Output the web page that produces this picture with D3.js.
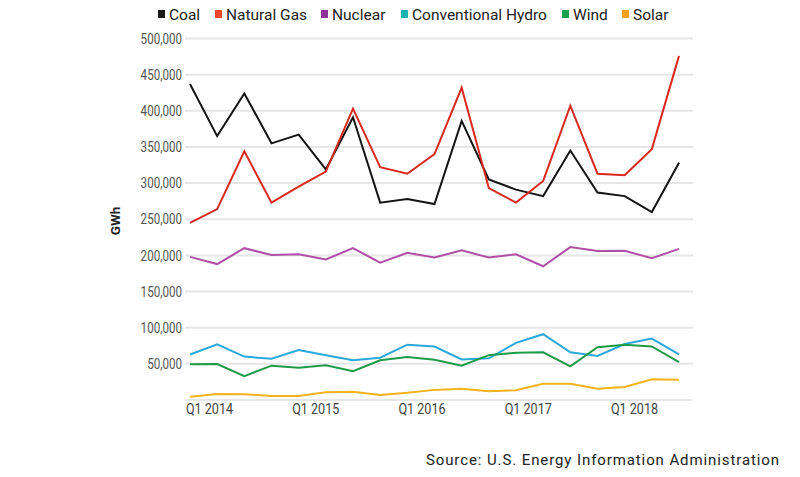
<!DOCTYPE html>
<html>
<head>
<meta charset="utf-8">
<script src="https://cdn.jsdelivr.net/npm/d3@7"></script>
<style>
  body { margin: 0; background: #fff; }
  svg { font-family: Roboto, sans-serif; }
</style>
</head>
<body>
<div id="chart"></div>
<script>
// quarters on the x axis
const quarters = ["Q1 2014","Q2 2014","Q3 2014","Q4 2014",
                  "Q1 2015","Q2 2015","Q3 2015","Q4 2015",
                  "Q1 2016","Q2 2016","Q3 2016","Q4 2016",
                  "Q1 2017","Q2 2017","Q3 2017","Q4 2017",
                  "Q1 2018","Q2 2018","Q3 2018"];
const xTicks = ["Q1 2014","Q1 2015","Q1 2016","Q1 2017","Q1 2018"];
const yTicks = [50000,100000,150000,200000,250000,300000,350000,400000,450000,500000];

// GWh per quarter
const coal        = [437000,365000,424000,355000,367000,319000,391000,273000,278000,271000,386000,305000,291000,282000,345000,287000,282000,260000,328000];
const naturalGas  = [245000,264000,344000,273000,295000,316000,403000,322000,313000,340000,432000,293000,273000,303000,407000,313000,311000,347000,476000];
const nuclear     = [198000,188000,210000,200500,201500,194500,210000,190000,203500,197000,207000,197000,201500,185000,211500,206000,206500,196000,209000];
const hydro       = [63000,77000,60000,57000,69000,62000,55000,58500,76500,74000,56000,57700,79000,91000,66000,61000,77500,85000,63000];
const wind        = [49400,49800,33000,47500,44700,48000,39700,55000,59500,55700,47500,62000,65500,66000,46500,73000,76500,74000,52500];
const solar       = [4600,8300,8000,5500,5500,10600,11500,7000,10000,14000,15600,12000,13400,22600,22600,15600,18000,28600,28000];

const seriesNames  = ["Coal","Natural Gas","Nuclear","Conventional Hydro","Wind","Solar"];
const seriesValues = [coal, naturalGas, nuclear, hydro, wind, solar];
const lineColors   = ["#141414","#d7291f","#b04fa6","#2ba7da","#1f9a48","#f2b31c"];
const legendColors = ["#1a1a1a","#e9482d","#8f3196","#1db3b5","#17a04e","#f5a11c"];

const width = 800, height = 477;

const svg = d3.select("#chart")
              .append("svg")
              .attr("width", width)
              .attr("height", height);

// scales
const x = d3.scalePoint()
            .domain(quarters)
            .range([190, 679]);

// the year labels sit on their own even spacing
const xLabel = d3.scalePoint()
                 .domain(xTicks)
                 .range([209, 634]);

const y = d3.scaleLinear()
            .domain([0, 500000])
            .range([400, 38.5]);

// grid lines
svg.append("g")
   .selectAll("line")
   .data([0].concat(yTicks))
   .enter()
   .append("line")
   .attr("x1", 185)
   .attr("x2", 693)
   .attr("y1", d => y(d))
   .attr("y2", d => y(d))
   .attr("stroke", "#e6e6e6")
   .attr("stroke-width", 2);

// y axis labels (squeezed to look like the condensed face)
const yAxis = d3.axisLeft(y)
                .tickValues(yTicks)
                .tickFormat(d3.format(","))
                .tickSize(0)
                .tickPadding(0);

svg.append("g")
   .attr("transform", "translate(182,0)")
   .call(yAxis)
   .call(g => g.select(".domain").remove())
   .selectAll("text")
   .attr("fill", "#555")
   .attr("transform", "scale(0.8,1)")
   .style("font-size", "14.5px")
   .style("font-family", "Roboto, sans-serif");

// x axis labels
const xAxis = d3.axisBottom(xLabel)
                .tickSize(0)
                .tickPadding(0);

svg.append("g")
   .attr("transform", "translate(0,404)")
   .call(xAxis)
   .call(g => g.select(".domain").remove())
   .selectAll("text")
   .attr("fill", "#444")
   .attr("transform", "scale(0.87,1)")
   .style("font-size", "14.5px")
   .style("font-family", "Roboto, sans-serif");

// y axis title
svg.append("text")
   .attr("transform", "translate(120,221) rotate(-90)")
   .attr("text-anchor", "middle")
   .style("font-size", "13.5px")
   .style("font-weight", "bold")
   .attr("fill", "#222")
   .text("GWh");

// lines
const line = d3.line()
               .x((d, i) => x(quarters[i]))
               .y(d => y(d));

svg.append("g")
   .selectAll("path")
   .data(seriesValues)
   .enter()
   .append("path")
   .attr("fill", "none")
   .attr("stroke", (d, i) => lineColors[i])
   .attr("stroke-width", 2)
   .attr("stroke-linejoin", "miter")
   .attr("d", line);

// legend
const legendX = [169, 226, 332, 412, 573, 633];

const legend = svg.append("g")
                  .selectAll("g")
                  .data(seriesNames)
                  .enter()
                  .append("g")
                  .attr("transform", (d, i) => `translate(${legendX[i]},14)`);

legend.append("rect")
      .attr("x", -11)
      .attr("y", -4)
      .attr("width", 7)
      .attr("height", 8)
      .attr("fill", (d, i) => legendColors[i]);

legend.append("text")
      .attr("x", 0)
      .attr("y", 5.5)
      .style("font-size", "15.5px")
      .attr("fill", "#222")
      .text(d => d);

// source
svg.append("text")
   .attr("x", 780)
   .attr("y", 465)
   .attr("text-anchor", "end")
   .style("font-size", "15px")
   .style("letter-spacing", "0.9px")
   .attr("fill", "#222")
   .text("Source: U.S. Energy Information Administration");
</script>
</body>
</html>
